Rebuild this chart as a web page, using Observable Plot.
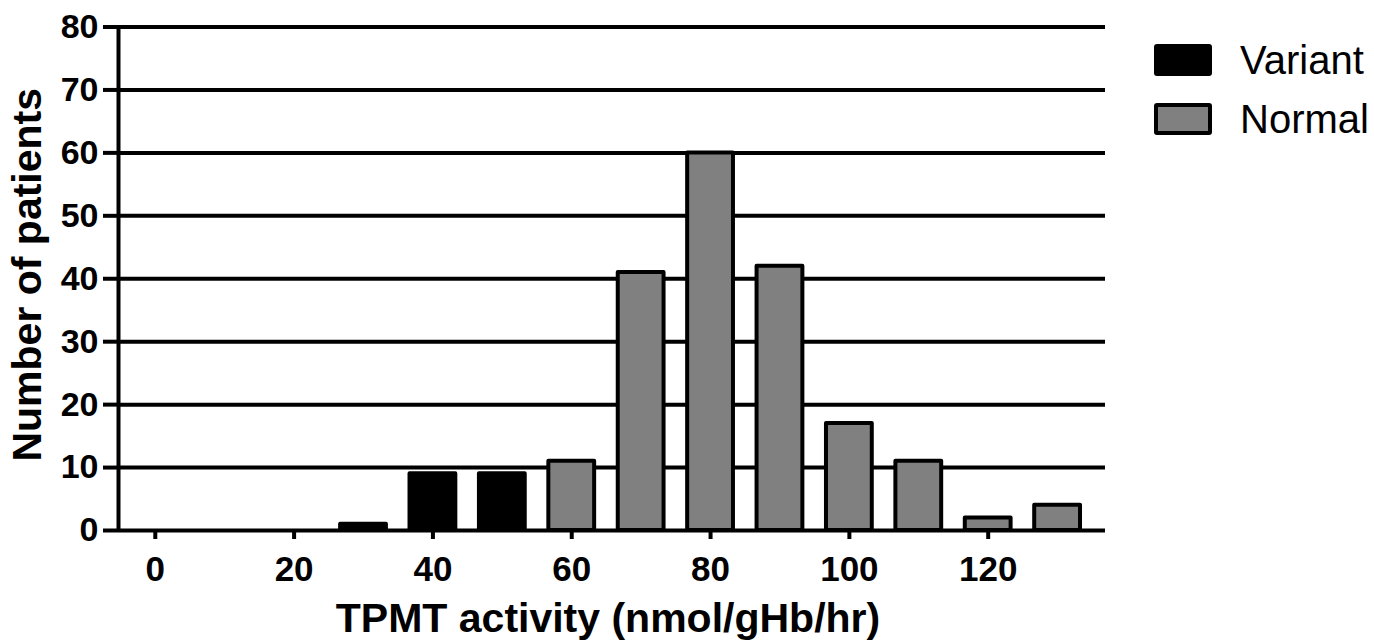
<!DOCTYPE html>
<html>
<head>
<meta charset="utf-8">
<script src="https://cdn.jsdelivr.net/npm/d3@7"></script>
<script src="https://cdn.jsdelivr.net/npm/@observablehq/plot@0.6"></script>
<style>
  html, body { margin: 0; padding: 0; background: #fff; }
  #wrap { position: relative; width: 1374px; height: 642px; font-family: "Liberation Sans", Arial, sans-serif; }
  #legend { position: absolute; left: 1154px; top: 44px; }
  .item { display: flex; align-items: center; height: 32px; margin-bottom: 27px; }
  .sw { width: 58px; height: 32px; box-sizing: border-box; border: 4px solid #000; border-radius: 3px; }
  .lab { margin-left: 28px; font-size: 40px; color: #000; line-height: 32px; }
</style>
</head>
<body>
<div id="wrap"><div id="legend"></div></div>
<script>
// ---- data ----
const activity = [30, 40, 50, 60, 70, 80, 90, 100, 110, 120, 130];
const group = ["Variant", "Variant", "Variant", "Normal", "Normal", "Normal", "Normal", "Normal", "Normal", "Normal", "Normal"];
const patients = [1, 9, 9, 11, 41, 60, 42, 17, 11, 2, 4];
const xTicks = [0, 20, 40, 60, 80, 100, 120];
const yTicks = [0, 10, 20, 30, 40, 50, 60, 70, 80];
const seriesNames = ["Variant", "Normal"];
const seriesColors = ["#000000", "#808080"];
const xTitle = "TPMT activity (nmol/gHb/hr)";
const yTitle = "Number of patients";

const rows = activity.map((a, i) => ({x: a, group: group[i], count: patients[i]}));
const half = 3.3;
const xMin = -5.3, xMax = 136.9;

const chart = Plot.plot({
  width: 1374,
  height: 642,
  marginLeft: 118,
  marginRight: 269,
  marginTop: 26.5,
  marginBottom: 112,
  style: {fontFamily: '"Liberation Sans", Arial, sans-serif', color: "#000", background: "#fff"},
  x: {type: "linear", domain: [xMin, xMax]},
  y: {type: "linear", domain: [0, 80]},
  color: {domain: seriesNames, range: seriesColors},
  marks: [
    Plot.ruleY(yTicks, {stroke: "#000", strokeWidth: 4}),
    Plot.ruleX([xMin], {y1: 0, y2: 80, stroke: "#000", strokeWidth: 4}),
    Plot.rectY(rows, {
      x1: d => d.x - half, x2: d => d.x + half, y1: 0, y2: "count",
      fill: "group", stroke: "#000", strokeWidth: 4, strokeLinejoin: "round"
    }),
    Plot.axisY({ticks: yTicks, tickSize: 15, strokeWidth: 4, tickPadding: 5, fontSize: 34, fontWeight: "bold", label: null}),
    Plot.axisX({ticks: xTicks, tickSize: 9, strokeWidth: 4, tickPadding: 17, fontSize: 35, fontWeight: "bold", label: null}),
    Plot.text([xTitle], {text: d => d, frameAnchor: "bottom", dy: 88, dx: -4, textAnchor: "middle", lineAnchor: "middle", fontSize: 41, fontWeight: "bold"}),
    Plot.text([yTitle], {text: d => d, frameAnchor: "left", dx: -91, dy: -4, rotate: -90, textAnchor: "middle", lineAnchor: "middle", fontSize: 41, fontWeight: "bold"})
  ]
});
document.getElementById("wrap").prepend(chart);

const legend = document.getElementById("legend");
seriesNames.forEach((name, i) => {
  const item = document.createElement("div");
  item.className = "item";
  const sw = document.createElement("div");
  sw.className = "sw";
  sw.style.background = seriesColors[i];
  const lab = document.createElement("span");
  lab.className = "lab";
  lab.textContent = name;
  item.appendChild(sw);
  item.appendChild(lab);
  legend.appendChild(item);
});
</script>
</body>
</html>
